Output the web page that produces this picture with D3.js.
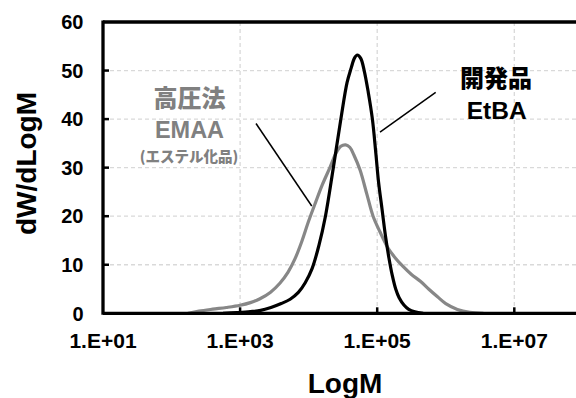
<!DOCTYPE html>
<html>
<head>
<meta charset="utf-8">
<script src="https://cdn.jsdelivr.net/npm/d3@7"></script>
<style>
  html, body { margin: 0; padding: 0; background: #fff; }
  svg { display: block; }
  text { font-family: "Liberation Sans", Arial, "Noto Sans CJK JP", sans-serif; font-weight: bold; }
  .jp { font-family: "Noto Sans CJK JP", "Liberation Sans", sans-serif; font-weight: 900; }
</style>
</head>
<body>
<svg id="chart" width="576" height="398"></svg>
<script>
// Molecular weight distribution: log10(M) vs dW/dLogM
const etbaLogM = [2.75, 2.95, 3.15, 3.3, 3.45, 3.6, 3.73, 3.85, 3.95, 4.05, 4.15, 4.245, 4.36, 4.47, 4.56, 4.62, 4.67, 4.71,
                  4.76, 4.81, 4.87, 4.93, 4.98, 5.02, 5.07, 5.12, 5.17, 5.22, 5.27, 5.32, 5.39, 5.46, 5.55, 5.67];
const etbaValue = [0, 0.15, 0.35, 0.6, 1.2, 2.0, 2.9, 4.3, 6.3, 9.2, 14, 20, 30, 40, 47.5, 50.5, 52.6, 53.2,
                   52.5, 50, 45.5, 40, 33, 27, 21.5, 16, 11.5, 7.8, 5, 3.2, 1.7, 0.8, 0.3, 0];

const emaaLogM = [2.24, 2.4, 2.6, 2.8, 3.0, 3.15, 3.29, 3.44, 3.58, 3.7, 3.8, 3.9, 4.0, 4.1, 4.2, 4.31, 4.4, 4.47, 4.54,
                  4.6, 4.66, 4.75, 4.85, 4.94, 5.04, 5.16, 5.27, 5.38, 5.5, 5.63, 5.75, 5.88, 6.0, 6.17, 6.35, 6.55];
const emaaValue = [0, 0.45, 0.85, 1.2, 1.65, 2.2, 3.0, 4.3, 6.2, 8.5, 11.2, 14.8, 19, 22.8, 26.5, 30, 33, 34.4, 34.7,
                   34.2, 32.6, 29.5, 24.5, 20, 16.8, 13.4, 11.3, 9.6, 8, 6.6, 5, 3.4, 2.0, 0.8, 0.2, 0];

const xTicks = [1, 3, 5, 7];
const xTickLabels = ["1.E+01", "1.E+03", "1.E+05", "1.E+07"];
const yTicks = [0, 10, 20, 30, 40, 50, 60];

const svg = d3.select("#chart");
const plotLeft = 103, plotTop = 22, plotBottom = 313.3, plotRight = 576;

const x = d3.scaleLinear().domain([1, 8]).range([plotLeft, plotLeft + 7 * 68.55]);
const y = d3.scaleLinear().domain([0, 60]).range([plotBottom, plotTop]);

// gridlines
const grid = svg.append("g");
grid.selectAll("line.h").data(yTicks.filter(d => d > 0 && d < 60)).join("line")
  .attr("x1", plotLeft).attr("x2", plotRight)
  .attr("y1", d => y(d)).attr("y2", d => y(d))
  .attr("stroke", "#d9d9d9").attr("stroke-width", 1.3).attr("stroke-dasharray", "4,3");
grid.selectAll("line.v").data(xTicks.filter(d => d > 1)).join("line")
  .attr("x1", d => x(d)).attr("x2", d => x(d))
  .attr("y1", plotTop).attr("y2", plotBottom)
  .attr("stroke", "#d9d9d9").attr("stroke-width", 1.3).attr("stroke-dasharray", "4,3");

// curves
const line = d3.line().x(d => x(d[0])).y(d => y(d[1])).curve(d3.curveCatmullRom.alpha(0.5));
svg.append("path").datum(d3.zip(emaaLogM, emaaValue))
  .attr("d", line).attr("fill", "none").attr("stroke", "#878787").attr("stroke-width", 3.2)
  .attr("stroke-linejoin", "round");
svg.append("path").datum(d3.zip(etbaLogM, etbaValue))
  .attr("d", line).attr("fill", "none").attr("stroke", "#000").attr("stroke-width", 3.2)
  .attr("stroke-linejoin", "round");

// frame: left axis, bottom axis, top border
svg.append("line").attr("x1", plotLeft).attr("x2", plotLeft).attr("y1", plotTop - 1.5).attr("y2", plotBottom + 1.5)
  .attr("stroke", "#000").attr("stroke-width", 3.3);
svg.append("line").attr("x1", plotLeft).attr("x2", plotRight).attr("y1", plotBottom).attr("y2", plotBottom)
  .attr("stroke", "#000").attr("stroke-width", 3.3);
svg.append("line").attr("x1", plotLeft).attr("x2", plotRight).attr("y1", plotTop).attr("y2", plotTop)
  .attr("stroke", "#000").attr("stroke-width", 3.3);

// inside tick marks
svg.selectAll("line.yt").data(yTicks.filter(d => d > 0 && d < 60)).join("line")
  .attr("x1", plotLeft).attr("x2", plotLeft + 6).attr("y1", d => y(d)).attr("y2", d => y(d))
  .attr("stroke", "#000").attr("stroke-width", 2.5);
svg.selectAll("line.xt").data(xTicks.filter(d => d > 1)).join("line")
  .attr("x1", d => x(d)).attr("x2", d => x(d)).attr("y1", plotBottom).attr("y2", plotBottom - 6)
  .attr("stroke", "#000").attr("stroke-width", 2.5);

// tick labels
svg.selectAll("text.yl").data(yTicks).join("text")
  .attr("x", 83.5).attr("y", d => y(d)).attr("dy", "0.36em")
  .attr("text-anchor", "end").attr("font-size", 20).text(d => d);
svg.selectAll("text.xl").data(xTicks).join("text")
  .attr("x", d => x(d)).attr("y", 348.3)
  .attr("text-anchor", "middle").attr("font-size", 21)
  .text((d, i) => xTickLabels[i]);

// axis titles
svg.append("text").attr("transform", "translate(35.5,163.5) rotate(-90)")
  .attr("text-anchor", "middle").attr("font-size", 28).text("dW/dLogM");
svg.append("text").attr("x", 345).attr("y", 393)
  .attr("text-anchor", "middle").attr("font-size", 28).text("LogM");

// series annotations with leader lines
svg.append("line")
  .attr("x1", x(3.232)).attr("y1", y(39.1)).attr("x2", x(4.045)).attr("y2", y(22.1))
  .attr("stroke", "#000").attr("stroke-width", 1.5);
svg.append("line")
  .attr("x1", x(5.853)).attr("y1", y(45.5)).attr("x2", x(5.041)).attr("y2", y(37.3))
  .attr("stroke", "#000").attr("stroke-width", 1.5);

const gray = "#808080";
svg.append("text").attr("class", "jp").attr("x", 189.5).attr("y", 96).attr("dominant-baseline", "central")
  .attr("text-anchor", "middle").attr("font-size", 24).attr("fill", gray).text("高圧法");
svg.append("text").attr("x", 189.5).attr("y", 137.8)
  .attr("text-anchor", "middle").attr("font-size", 23.5).attr("fill", gray).text("EMAA");
svg.append("text").attr("class", "jp").attr("x", 189).attr("y", 155).attr("dominant-baseline", "central")
  .attr("text-anchor", "middle").attr("font-size", 14.5).attr("fill", gray).text("(エステル化品)");

svg.append("text").attr("class", "jp").attr("x", 496).attr("y", 76).attr("dominant-baseline", "central")
  .attr("text-anchor", "middle").attr("font-size", 24).attr("fill", "#000").text("開発品");
svg.append("text").attr("x", 496.7).attr("y", 118.5)
  .attr("text-anchor", "middle").attr("font-size", 24.5).attr("fill", "#000").text("EtBA");
</script>
</body>
</html>
